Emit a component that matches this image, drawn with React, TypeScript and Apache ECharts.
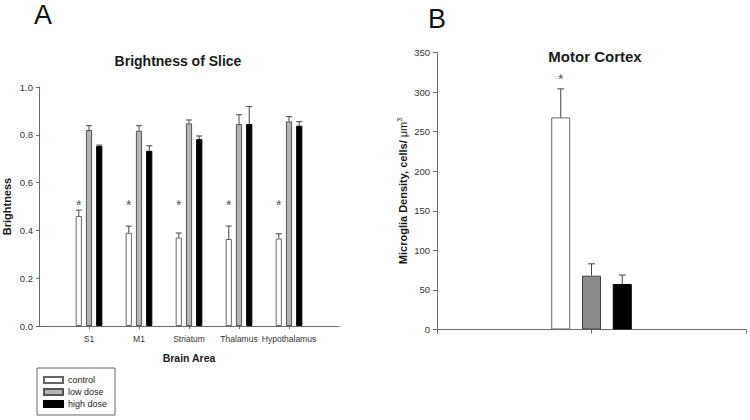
import React, { useEffect, useRef } from "react";
import * as echarts from "echarts";

// ---------- data ----------
const AREAS = ["S1", "M1", "Striatum", "Thalamus", "Hypothalamus"];
const CONTROL_A = [0.46, 0.39, 0.37, 0.364, 0.366];
const CONTROL_A_SEM = [0.025, 0.028, 0.019, 0.054, 0.02];
const LOW_A = [0.82, 0.817, 0.848, 0.845, 0.856];
const LOW_A_SEM = [0.018, 0.021, 0.014, 0.039, 0.02];
const HIGH_A = [0.753, 0.733, 0.782, 0.845, 0.838];
const HIGH_A_SEM = [0.004, 0.021, 0.013, 0.073, 0.017];
const SIG_A = ["*", "*", "*", "*", "*"];

const REGION_B = "Motor Cortex";
const CONTROL_B = 268;
const CONTROL_B_SEM = 36;
const LOW_B = 68;
const LOW_B_SEM = 15;
const HIGH_B = 57.5;
const HIGH_B_SEM = 11.3;
const SIG_B = "*";

const Y_TICKS_A = [0, 0.2, 0.4, 0.6, 0.8, 1.0];
const Y_TICKS_B = [0, 50, 100, 150, 200, 250, 300, 350];
const GROUPS = ["control", "low dose", "high dose"];

// ---------- style ----------
const FONT = 'Arial, "Liberation Sans", Helvetica, sans-serif';
const AXIS_COLOR = "#6a6a6a";
const LABEL_COLOR = "#333";
const ERR_COLOR = "#444";
const STAR_COLOR = "#555";

export default function App() {
  const ref = useRef<HTMLDivElement>(null);

  useEffect(() => {
    if (!ref.current) return;
    const chart = echarts.init(ref.current, null, { renderer: "svg" });

    // category axes padded with an empty slot on each side
    const catsA = ["", ...AREAS, ""];
    const catsB = ["", REGION_B, ""];
    const padA = (arr: number[]) => [null, ...arr, null];

    const BW_A = 6.2;
    const GAP_A = 0.65;
    const STEP_A = BW_A * (1 + GAP_A);
    const BW_B = 19;
    const GAP_B = 0.62;
    const STEP_B = BW_B * (1 + GAP_B);

    const errSeries = (
      name: string,
      xi: number,
      yi: number,
      data: number[][],
      offset: number,
      cap: number
    ) => ({
      type: "custom",
      name: name + "-err",
      xAxisIndex: xi,
      yAxisIndex: yi,
      silent: true,
      z: 5,
      data,
      renderItem: (params: any, api: any) => {
        const c = api.value(0);
        const m = api.value(1);
        const s = api.value(2);
        const p0 = api.coord([c, m]);
        const p1 = api.coord([c, m + s]);
        const x = p0[0] + offset;
        return {
          type: "group",
          children: [
            {
              type: "line",
              shape: { x1: x, y1: p0[1], x2: x, y2: p1[1] },
              style: { stroke: ERR_COLOR, lineWidth: 1 },
            },
            {
              type: "line",
              shape: { x1: x - cap / 2, y1: p1[1], x2: x + cap / 2, y2: p1[1] },
              style: { stroke: ERR_COLOR, lineWidth: 1 },
            },
          ],
        };
      },
    });

    const starSeries = (xi: number, yi: number, data: any[], offset: number) => ({
      type: "custom",
      name: "stars",
      xAxisIndex: xi,
      yAxisIndex: yi,
      silent: true,
      z: 6,
      data,
      renderItem: (params: any, api: any) => {
        const p = api.coord([api.value(0), api.value(1)]);
        const txt = data[params.dataIndex][2];
        return {
          type: "text",
          x: p[0] + offset,
          y: p[1],
          style: {
            text: txt,
            fill: STAR_COLOR,
            font: "14px " + FONT,
            align: "center",
            verticalAlign: "middle",
          },
        };
      },
    });

    const yLabel = { color: LABEL_COLOR, fontFamily: FONT, fontSize: 9.5 };

    const option: any = {
      animation: false,
      backgroundColor: "#fff",
      textStyle: { fontFamily: FONT },
      graphic: [
        { type: "text", x: 43, y: 15, style: { text: "A", font: "27px " + FONT, fill: "#111", align: "center", verticalAlign: "middle" } },
        { type: "text", x: 437, y: 19, style: { text: "B", font: "27px " + FONT, fill: "#111", align: "center", verticalAlign: "middle" } },
        { type: "text", x: 178, y: 61, style: { text: "Brightness of Slice", font: "bold 14px " + FONT, fill: "#1a1a1a", align: "center", verticalAlign: "middle" } },
        { type: "text", x: 595, y: 56, style: { text: REGION_B, font: "bold 15px " + FONT, fill: "#1a1a1a", align: "center", verticalAlign: "middle" } },
      ],
      legend: {
        data: GROUPS,
        orient: "vertical",
        left: 37,
        top: 368,
        itemWidth: 19,
        itemHeight: 6,
        itemGap: 0,
        padding: [6, 8, 5, 6],
        borderColor: "#666",
        borderWidth: 1,
        icon: "rect",
        selectedMode: false,
        textStyle: { fontFamily: FONT, fontSize: 9, color: "#222", lineHeight: 12 },
      },
      grid: [
        { left: 37, top: 87, width: 302, height: 239 },
        { left: 437, top: 52.5, width: 309, height: 277 },
      ],
      xAxis: [
        {
          type: "category",
          gridIndex: 0,
          data: catsA,
          boundaryGap: false,
          axisLine: { lineStyle: { color: AXIS_COLOR } },
          axisTick: {
            length: 3,
            lineStyle: { color: AXIS_COLOR },
            interval: (i: number) => i > 0 && i < catsA.length - 1,
          },
          axisLabel: { color: LABEL_COLOR, fontFamily: FONT, fontSize: 8.5, interval: 0, margin: 8 },
          name: "Brain Area",
          nameLocation: "middle",
          nameGap: 26,
          nameTextStyle: { fontWeight: "bold", fontSize: 10.5, color: "#1a1a1a", fontFamily: FONT },
        },
        {
          type: "category",
          gridIndex: 1,
          data: catsB,
          boundaryGap: false,
          axisLine: { lineStyle: { color: AXIS_COLOR } },
          axisTick: { length: 4, lineStyle: { color: AXIS_COLOR }, interval: 0 },
          axisLabel: { show: false },
        },
      ],
      yAxis: [
        {
          type: "value",
          gridIndex: 0,
          min: Y_TICKS_A[0],
          max: Y_TICKS_A[Y_TICKS_A.length - 1],
          interval: 0.2,
          splitLine: { show: false },
          axisLine: { show: true, lineStyle: { color: AXIS_COLOR } },
          axisTick: { show: true, length: 3, lineStyle: { color: AXIS_COLOR } },
          axisLabel: { ...yLabel, margin: 6, formatter: (v: number) => v.toFixed(1) },
          name: "Brightness",
          nameLocation: "middle",
          nameGap: 27,
          nameTextStyle: { fontWeight: "bold", fontSize: 11, color: "#1a1a1a", fontFamily: FONT },
        },
        {
          type: "value",
          gridIndex: 1,
          min: Y_TICKS_B[0],
          max: Y_TICKS_B[Y_TICKS_B.length - 1],
          interval: 50,
          splitLine: { show: false },
          axisLine: { show: true, lineStyle: { color: AXIS_COLOR } },
          axisTick: { show: true, length: 4, lineStyle: { color: AXIS_COLOR } },
          axisLabel: { ...yLabel, margin: 7 },
          name: "{b|Microglia Density, cells/ }{u|\u03bcm}{s|3}",
          nameLocation: "middle",
          nameGap: 27,
          nameTextStyle: {
            color: "#1a1a1a",
            rich: {
              b: { fontWeight: "bold", fontSize: 11, fontFamily: FONT, color: "#1a1a1a", lineHeight: 14 },
              u: { fontSize: 11, fontFamily: FONT, color: "#1a1a1a", lineHeight: 14 },
              s: { fontSize: 7, fontFamily: FONT, color: "#1a1a1a", verticalAlign: "top", lineHeight: 14 },
            },
          },
        },
      ],
      series: [
        // Panel A bars
        {
          type: "bar", name: GROUPS[0], xAxisIndex: 0, yAxisIndex: 0,
          data: padA(CONTROL_A), barWidth: BW_A, barGap: GAP_A * 100 + "%",
          itemStyle: { color: "#fff", borderColor: "#666", borderWidth: 1 },
        },
        {
          type: "bar", name: GROUPS[1], xAxisIndex: 0, yAxisIndex: 0,
          data: padA(LOW_A), barWidth: BW_A, barGap: GAP_A * 100 + "%",
          itemStyle: { color: "#b3b3b3", borderColor: "#555", borderWidth: 1 },
        },
        {
          type: "bar", name: GROUPS[2], xAxisIndex: 0, yAxisIndex: 0,
          data: padA(HIGH_A), barWidth: BW_A, barGap: GAP_A * 100 + "%",
          itemStyle: { color: "#000", borderColor: "#000", borderWidth: 1 },
        },
        // Panel B bars
        {
          type: "bar", name: GROUPS[0], xAxisIndex: 1, yAxisIndex: 1,
          data: [null, CONTROL_B, null], barWidth: BW_B, barGap: GAP_B * 100 + "%",
          itemStyle: { color: "#fff", borderColor: "#666", borderWidth: 1 },
        },
        {
          type: "bar", name: GROUPS[1], xAxisIndex: 1, yAxisIndex: 1,
          data: [null, LOW_B, null], barWidth: BW_B, barGap: GAP_B * 100 + "%",
          itemStyle: { color: "#8a8a8a", borderColor: "#444", borderWidth: 1 },
        },
        {
          type: "bar", name: GROUPS[2], xAxisIndex: 1, yAxisIndex: 1,
          data: [null, HIGH_B, null], barWidth: BW_B, barGap: GAP_B * 100 + "%",
          itemStyle: { color: "#000", borderColor: "#000", borderWidth: 1 },
        },
        // Error bars A
        errSeries("control", 0, 0, CONTROL_A.map((v, i) => [i + 1, v, CONTROL_A_SEM[i]]), -STEP_A, 6),
        errSeries("low", 0, 0, LOW_A.map((v, i) => [i + 1, v, LOW_A_SEM[i]]), 0, 6),
        errSeries("high", 0, 0, HIGH_A.map((v, i) => [i + 1, v, HIGH_A_SEM[i]]), STEP_A, 6),
        // Error bars B
        errSeries("controlB", 1, 1, [[1, CONTROL_B, CONTROL_B_SEM]], -STEP_B, 7),
        errSeries("lowB", 1, 1, [[1, LOW_B, LOW_B_SEM]], 0, 7),
        errSeries("highB", 1, 1, [[1, HIGH_B, HIGH_B_SEM]], STEP_B, 7),
        // Significance stars
        starSeries(0, 0, SIG_A.map((s, i) => [i + 1, 0.505, s]), -STEP_A),
        starSeries(1, 1, [[1, 316, SIG_B]], -STEP_B),
      ],
    };

    chart.setOption(option);
    return () => chart.dispose();
  }, []);

  return (
    <div
      ref={ref}
      style={{ position: "fixed", left: 0, top: 0, width: 750, height: 420, background: "#fff" }}
    />
  );
}
